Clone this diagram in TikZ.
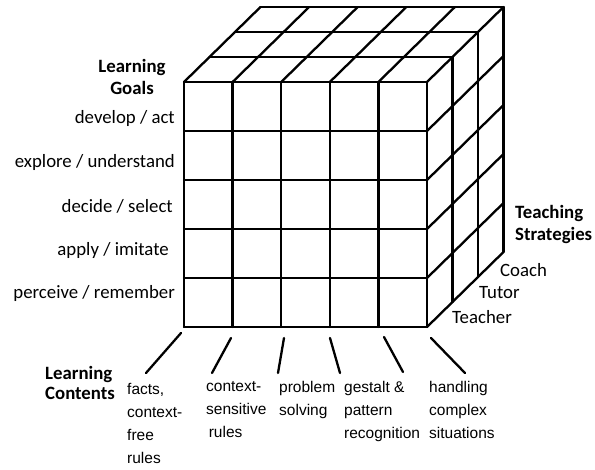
\documentclass[tikz,border=0pt]{standalone}
\usepackage{fontspec}
\usepackage{tikz}
\usetikzlibrary{calc}
\newfontfamily\calib{Carlito}
\newfontfamily\arialf{Liberation Sans}

\begin{document}
\begin{tikzpicture}[x=1pt,y=-1pt]
    \useasboundingbox (0,0) rectangle (595,470);
    \tikzset{grid/.style={line width=2.3pt, line cap=round, line join=round},
      goal/.style={anchor=east, font=\calib\fontsize{18.8}{21}\selectfont, inner sep=0pt},
      axis/.style={align=left, font=\calib\bfseries\fontsize{18.8}{22}\selectfont, inner sep=0pt},
      content/.style={anchor=north west, align=left, inner sep=0pt,
        font=\arialf\fontsize{15.5}{23}\selectfont}}
    % cube: 5 columns, 5 rows, 3 layers deep
    \def\cw{48.6} \def\rh{49} \def\dx{25.5} \def\dy{-25}
    \coordinate (F) at (184,82);
    % front face
    \foreach \i in {0,...,5}{
        \draw[grid] ($(F)+(\i*\cw,0)$)--($(F)+(\i*\cw,5*\rh)$);
        \draw[grid] ($(F)+(0,\i*\rh)$)--($(F)+(5*\cw,\i*\rh)$);
    }
    % top face
    \foreach \k in {1,...,3}
        \draw[grid] ($(F)+(\k*\dx,\k*\dy)$)--($(F)+(5*\cw+\k*\dx,\k*\dy)$);
    \foreach \i in {0,...,5}
        \draw[grid] ($(F)+(\i*\cw,0)$)--($(F)+(\i*\cw+3*\dx,3*\dy)$);
    % right face
    \foreach \k in {1,...,3}
        \draw[grid] ($(F)+(5*\cw+\k*\dx,\k*\dy)$)--($(F)+(5*\cw+\k*\dx,5*\rh+\k*\dy)$);
    \foreach \j in {1,...,5}
        \draw[grid] ($(F)+(5*\cw,\j*\rh)$)--($(F)+(5*\cw+3*\dx,\j*\rh+3*\dy)$);
    % learning goals
    \node[axis, align=center] (goals) at (132,77) {Learning\\Goals};
    \node[goal] (g5) at (175,118) {develop / act};
    \node[goal] (g4) at (175,162) {explore / understand};
    \node[goal] (g3) at (173,206) {decide / select};
    \node[goal] (g2) at (169,250) {apply / imitate};
    \node[goal] (g1) at (175,293) {perceive / remember};
    % teaching strategies
    \node[axis, anchor=west] (strat) at (515,224) {Teaching\\Strategies};
    \node[goal, anchor=west] (coach) at (500,270) {Coach};
    \node[goal, anchor=west] (tutor) at (479,293) {Tutor};
    \node[goal, anchor=west] (teacher) at (452,317) {Teacher};
    % learning contents
    \node[axis, anchor=west, font=\calib\bfseries\fontsize{18.8}{20}\selectfont] (cont) at (45,383) {Learning\\Contents};
    \node[content] (c1) at (127,383) {facts,\\context-\\free\\rules};
    \node[content] (c2) at (206,381) {context-\\sensitive\\\,rules};
    \node[content] (c3) at (279,381) {problem\\solving};
    \node[content] (c4) at (344,381) {gestalt \&\\pattern\\recognition};
    \node[content] (c5) at (429,381) {handling\\complex\\situations};
    % strokes from contents to columns
    \foreach \n/\xa/\ya/\xb/\yb in {1/181/333/146/373, 2/231/338/212/373, 3/284/338/278/373,
        4/330/338/340/373, 5/384/337/403/372, 6/431/338/465/373}{
        \coordinate (s\n) at (\xa,\ya);
        \coordinate (e\n) at (\xb,\yb);
        \draw[grid] (s\n)--(e\n);
    }
\end{tikzpicture}
\end{document}
